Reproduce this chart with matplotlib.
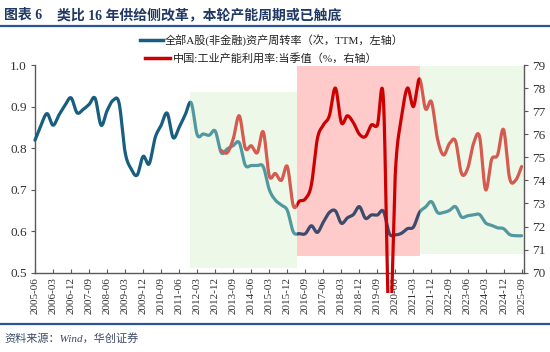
import numpy as np
import matplotlib
matplotlib.use("Agg")
import matplotlib.pyplot as plt
from matplotlib.patches import Rectangle
from matplotlib.lines import Line2D
import matplotlib.transforms as mtransforms

# ---------------- data ----------------
start_year, start_month = 2005, 6
n_q = 82
quarters = []
y, m = start_year, start_month
for _ in range(n_q):
    quarters.append(f"{y}-{m:02d}")
    m += 3
    if m > 12:
        m -= 12
        y += 1
tick_labels = quarters[::3]

turnover = [0.819, 0.855, 0.883, 0.855, 0.880, 0.903, 0.921, 0.885, 0.893, 0.905,
            0.920, 0.855, 0.890, 0.915, 0.908, 0.790, 0.750, 0.735, 0.780, 0.762,
            0.825, 0.855, 0.884, 0.825, 0.850, 0.880, 0.909, 0.832, 0.834, 0.831,
            0.841, 0.789, 0.798, 0.806, 0.813, 0.759, 0.758, 0.758, 0.755, 0.700,
            0.675, 0.663, 0.650, 0.598, 0.594, 0.594, 0.613, 0.597, 0.622, 0.645,
            0.649, 0.619, 0.632, 0.640, 0.659, 0.631, 0.639, 0.639, 0.648, 0.594,
            0.591, 0.595, 0.606, 0.610, 0.645, 0.658, 0.671, 0.645, 0.645, 0.650,
            0.659, 0.634, 0.637, 0.639, 0.640, 0.620, 0.614, 0.608, 0.606, 0.592,
            0.589, 0.589]

util_start = 31  # 2013-03
utilization = [75.3, 75.2, 75.8, 76.8, 75.4, 75.5, 75.2, 76.1, 74.2, 74.3,
               74.0, 74.6, 72.9, 73.1, 73.2, 73.8, 75.8, 76.4, 76.8, 78.0,
               76.5, 76.8, 76.5, 76.0, 75.9, 76.4, 76.4, 77.5, 67.3, 74.4,
               76.7, 78.0, 77.2, 78.4, 77.1, 77.4, 75.8, 75.1, 75.6, 75.7,
               74.3, 74.5, 75.6, 75.9, 73.6, 74.9, 75.1, 76.2, 74.1, 74.0, 74.6]

# shaded periods (quarter index ranges)
green1 = (25.8, 43.6)
pink = (43.6, 64.05)
green2 = (64.05, 81.4)


def smooth(xs, ys, n=24):
    xs = np.asarray(xs, float)
    ys = np.asarray(ys, float)
    P = np.column_stack([xs, ys])
    P = np.vstack([P[0], P, P[-1]])
    out = []
    t = np.linspace(0, 1, n, endpoint=False)[:, None]
    for i in range(1, len(P) - 2):
        p0, p1, p2, p3 = P[i - 1], P[i], P[i + 1], P[i + 2]
        c1 = p1 + (p2 - p0) / 6.0
        c2 = p2 - (p3 - p1) / 6.0
        seg = ((1 - t) ** 3) * p1 + 3 * ((1 - t) ** 2) * t * c1 + 3 * (1 - t) * t ** 2 * c2 + t ** 3 * p2
        out.append(seg)
    out.append(P[-2][None, :])
    out = np.vstack(out)
    return out[:, 0], out[:, 1]


# ---------------- figure ----------------
fig = plt.figure(figsize=(5.5, 3.52), dpi=100)
ax = fig.add_axes([35 / 550, 79.3 / 352, (524 - 35) / 550, (272.7 - 65) / 352])
ax2 = ax.twinx()

serif = ["Liberation Serif", "Noto Sans CJK SC"]

# shading
span_tr = mtransforms.blended_transform_factory(ax.transData, ax.transAxes)
ax.add_patch(Rectangle((green1[0], 0.022), green1[1] - green1[0], 0.872 - 0.022,
                       transform=span_tr, facecolor="#eef8e9", edgecolor="none", zorder=0))
ax.add_patch(Rectangle((pink[0], 0.082), pink[1] - pink[0], 0.993 - 0.082,
                       transform=span_tr, facecolor="#ffcaca", edgecolor="none", zorder=0))
ax.add_patch(Rectangle((green2[0], 0.09), green2[1] - green2[0], 0.995 - 0.09,
                       transform=span_tr, facecolor="#eef8e9", edgecolor="none", zorder=0))

x_all = np.arange(n_q)
sx, sy = smooth(x_all, turnover)
x_u = np.arange(util_start, util_start + len(utilization))
ux, uy = smooth(x_u, utilization)


def draw_clipped(axis, xs, ys, x0, x1, color):
    ln, = axis.plot(xs, ys, color=color, lw=2.3, solid_capstyle="round", zorder=3)
    tr = mtransforms.blended_transform_factory(axis.transData, axis.transAxes)
    rect = Rectangle((x0, -0.1), x1 - x0, 1.2, transform=tr)
    ln.set_clip_path(rect)
    return ln

# blue line pieces
draw_clipped(ax, sx, sy, -1, green1[0], "#185e80")
draw_clipped(ax, sx, sy, green1[0], pink[0], "#5298a0")
draw_clipped(ax, sx, sy, pink[0], green2[0], "#3a4b6c")
draw_clipped(ax, sx, sy, green2[0], 90, "#5298a0")
# red line pieces
draw_clipped(ax2, ux, uy, green1[0], pink[0], "#d65a50")
draw_clipped(ax2, ux, uy, pink[0], green2[0], "#cc0000")
draw_clipped(ax2, ux, uy, green2[0], 90, "#d65a50")

ax.set_xlim(0, 81.4)
ax.set_ylim(0.5, 1.0)
ax2.set_ylim(70, 79)
ax.set_yticks(np.arange(0.5, 1.01, 0.1))
ax.set_yticklabels([f"{v:.1f}" for v in np.arange(0.5, 1.01, 0.1)])
ax2.set_yticks(np.arange(70, 80, 1))
ax.set_xticks(x_all[::3])
ax.set_xticklabels(tick_labels, rotation=90)

for a in (ax, ax2):
    for s in ("top",):
        a.spines[s].set_visible(False)
    for s in ("left", "right", "bottom"):
        a.spines[s].set_color("#595959")
        a.spines[s].set_linewidth(1.0)
ax.spines["right"].set_visible(False)
ax2.spines["left"].set_visible(False)
ax2.spines["bottom"].set_visible(False)

ax.tick_params(axis="x", direction="in", length=3, width=0.8, color="#595959",
               labelsize=8, pad=3, labelcolor="#333333")
ax.tick_params(axis="y", direction="out", length=3, width=0.8, color="#595959",
               labelsize=9.5, pad=3, labelcolor="#333333")
ax2.tick_params(axis="y", direction="out", length=3, width=0.8, color="#595959",
                labelsize=9.5, pad=3, labelcolor="#333333")
for lab in ax.get_xticklabels() + ax.get_yticklabels() + ax2.get_yticklabels():
    lab.set_fontfamily(serif)

# legend (manual)
fig.add_artist(Line2D([140 / 550, 163 / 550], [1 - 40 / 352, 1 - 40 / 352], color="#185e80", lw=2.5))
fig.text(165 / 550, 1 - 40 / 352, "全部A股(非金融)资产周转率（次，TTM，左轴）", fontsize=8,
         family=serif, va="center", ha="left", color="#222222")
fig.add_artist(Line2D([145 / 550, 170 / 550], [1 - 58 / 352, 1 - 58 / 352], color="#cc0000", lw=2.5))
fig.text(173 / 550, 1 - 58 / 352, "中国:工业产能利用率:当季值（%，右轴）", fontsize=8,
         family=serif, va="center", ha="left", color="#222222")

# title and frame lines
fig.text(4 / 550, 1 - 15 / 352, "图表 6", fontsize=10, fontweight="bold", family=serif,
         va="center", ha="left", color="#1f3864")
fig.text(57 / 550, 1 - 15 / 352, "类比 16 年供给侧改革，本轮产能周期或已触底", fontsize=10,
         fontweight="bold", family=serif, va="center", ha="left", color="#1f3864")
fig.add_artist(Line2D([0, 1], [1 - 25.5 / 352, 1 - 25.5 / 352], color="#2c5597", lw=1.6))
fig.add_artist(Line2D([0, 1], [1 - 324 / 352, 1 - 324 / 352], color="#2c5597", lw=1.6))
fig.text(4 / 550, 1 - 338 / 352, "资料来源：Wind，华创证券", fontsize=8, style="italic",
         family=serif, va="center", ha="left", color="#3b4a66")

fig.savefig("out.png", dpi=100)
